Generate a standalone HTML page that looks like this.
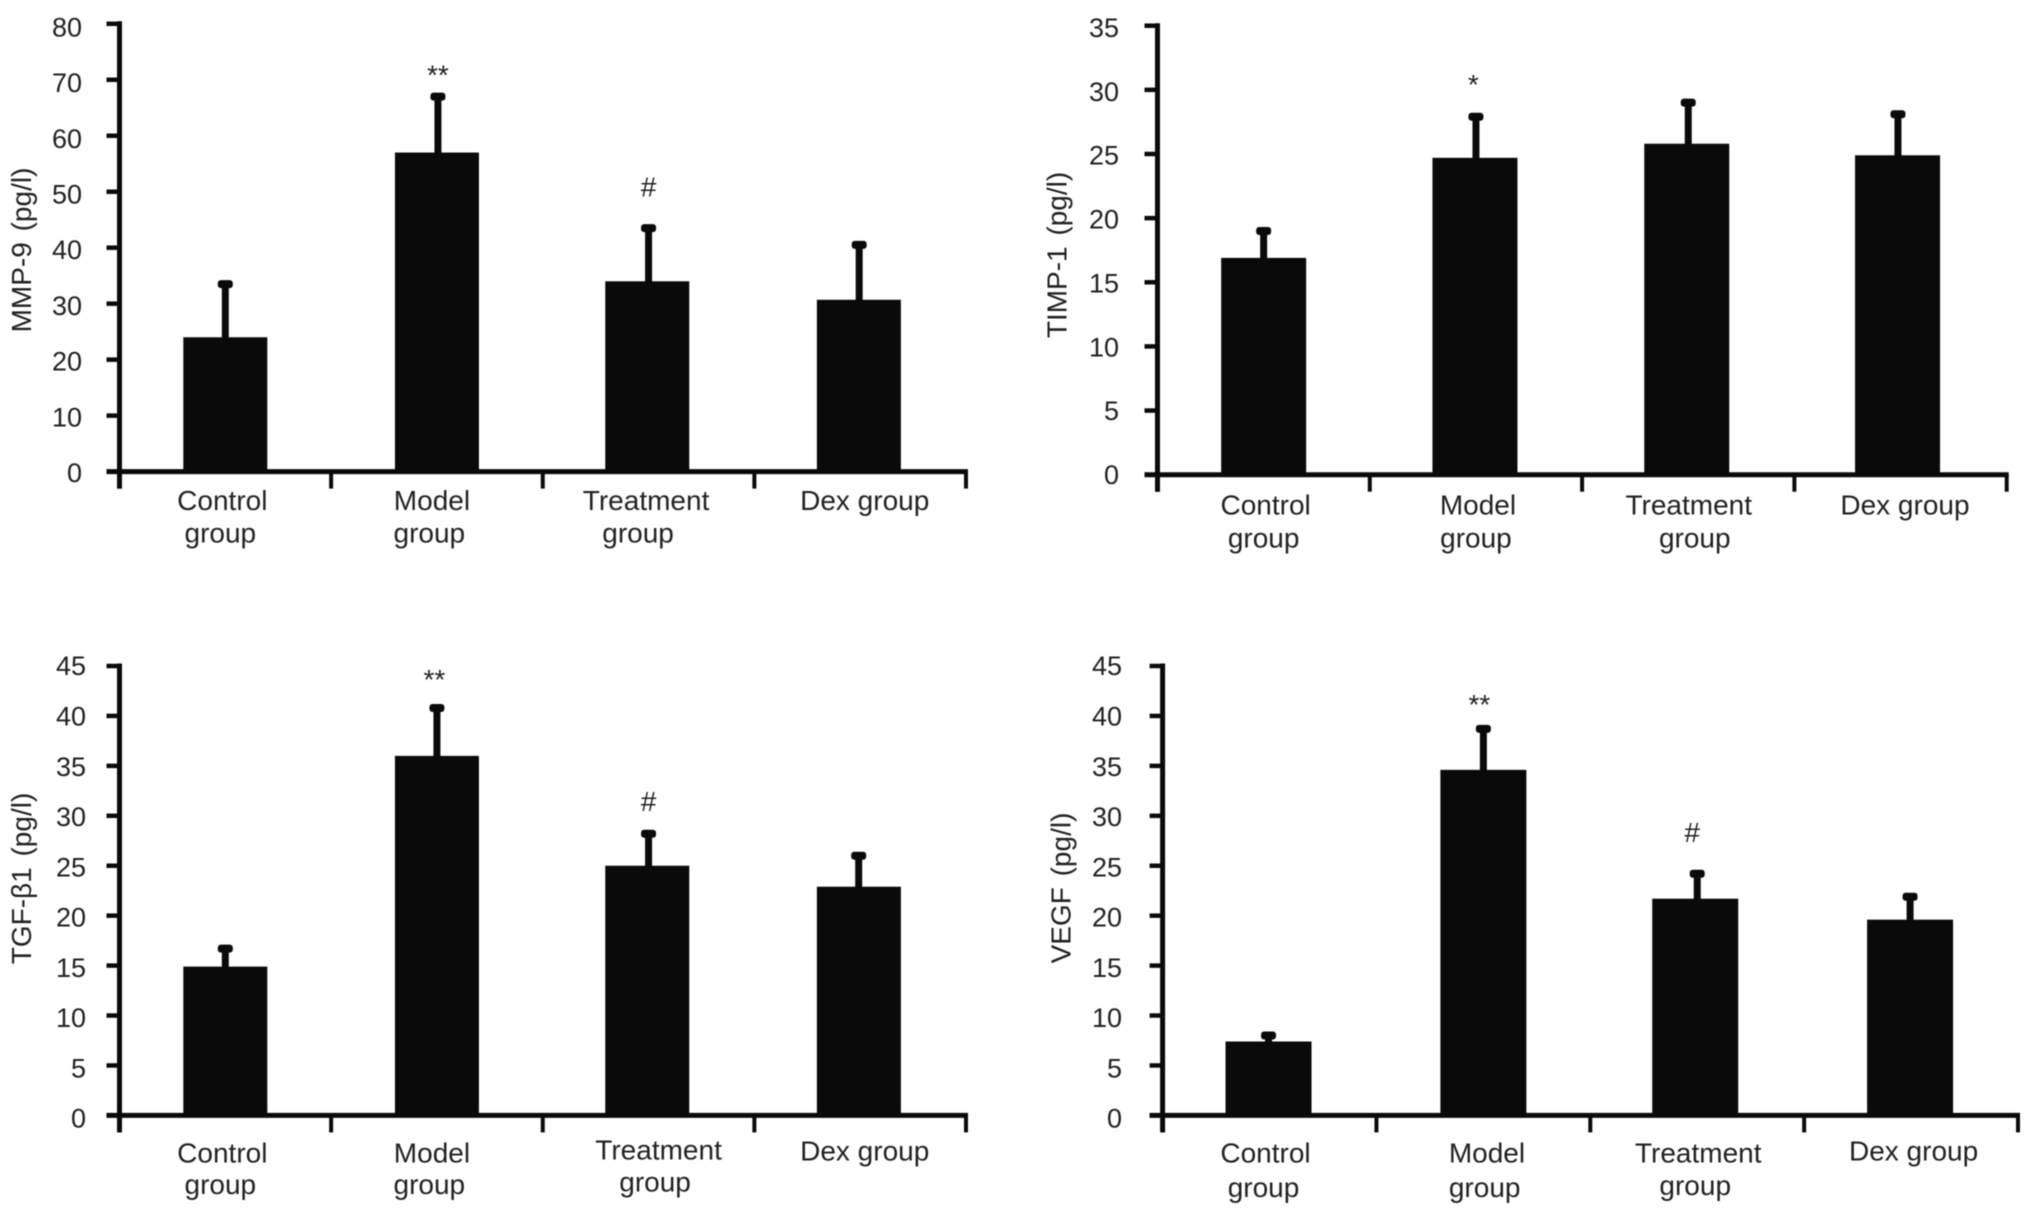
<!DOCTYPE html>
<html lang="en">
<head>
<meta charset="utf-8">
<title>Cytokine levels by treatment group</title>
<style>
  html, body { margin: 0; padding: 0; background: #fff; }
  body { width: 2031px; height: 1215px; overflow: hidden; }
  svg { display: block; filter: blur(0.5px); }
  text { font-family: "Liberation Sans", sans-serif; font-size: 28px; fill: #222; }
  text.tick-label { font-size: 27px; }
</style>
</head>
<body>
<svg id="figure" xmlns="http://www.w3.org/2000/svg" width="2031" height="1215" viewBox="0 0 2031 1215"></svg>
<script>
const categories = [["Control", "group"], ["Model", "group"], ["Treatment", "group"], ["Dex group"]];

const mmp9Means = [24, 57, 34, 30.7];
const mmp9Upper = [33.5, 67, 43.5, 40.5];
const mmp9Marks = ["", "**", "#", ""];
const mmp9Ticks = [0, 10, 20, 30, 40, 50, 60, 70, 80];

const timp1Means = [16.9, 24.7, 25.8, 24.9];
const timp1Upper = [19, 27.9, 29, 28.1];
const timp1Marks = ["", "*", "", ""];
const timp1Ticks = [0, 5, 10, 15, 20, 25, 30, 35];

const tgfMeans = [14.9, 36, 25, 22.9];
const tgfUpper = [16.7, 40.8, 28.2, 26];
const tgfMarks = ["", "**", "#", ""];
const tgfTicks = [0, 5, 10, 15, 20, 25, 30, 35, 40, 45];

const vegfMeans = [7.4, 34.6, 21.7, 19.6];
const vegfUpper = [8, 38.7, 24.2, 21.9];
const vegfMarks = ["", "**", "#", ""];
const vegfTicks = [0, 5, 10, 15, 20, 25, 30, 35, 40, 45];

const panels = [
  { name: "mmp9", title: "MMP-9 (pg/l)", means: mmp9Means, upper: mmp9Upper, marks: mmp9Marks, ticks: mmp9Ticks,
    left: 119.5, right: 966, top: 23.8, base: 471.6, barW: 84, labelRight: 82, dyTop: 3, dyBase: 1,
    titleX: 21.8, titleY: 250,
    barDx: [0, 0, -1.3, -1.3], errDx: [0, 1, 0, -1], markDx: [0, 0, 0, 0],
    markGap: [0, 24, 39, 0],
    line1: [510, 510, 510, 510], line2: [542.5, 542.5, 542.5],
    dx1: [-3, -5, -2.5, 4.5], dx2: [-5, -7.6, -10.5] },
  { name: "timp1", title: "TIMP-1 (pg/l)", means: timp1Means, upper: timp1Upper, marks: timp1Marks, ticks: timp1Ticks,
    left: 1157.5, right: 2006.7, top: 25.7, base: 474.7, barW: 85, labelRight: 1119, dyTop: 1.8, dyBase: -0.2,
    titleX: 1057.3, titleY: 255,
    barDx: [0, -1, -1.5, -3], errDx: [0, 0, 0, -2.6], markDx: [0, -2.6, 0, 0],
    markGap: [0, 35, 0, 0],
    line1: [514.5, 514.5, 514.5, 514.5], line2: [547.5, 547.5, 547.5],
    dx1: [2, 2, 0.5, 4.4], dx2: [0, 0, 6.5] },
  { name: "tgf-beta1", title: "TGF-β1 (pg/l)", means: tgfMeans, upper: tgfUpper, marks: tgfMarks, ticks: tgfTicks,
    left: 119.5, right: 966, top: 666, base: 1115.4, barW: 84, labelRight: 86, dyTop: -0.3, dyBase: 2.8,
    titleX: 21.8, titleY: 878.5,
    barDx: [0, 0, -1.3, -1.3], errDx: [0, 0, 0, -1.5], markDx: [0, -2.6, 0, 0],
    markGap: [0, 31, 30.5, 0],
    line1: [1162.5, 1162.5, 1159.5, 1160.5], line2: [1194, 1194, 1191.5],
    dx1: [-3, -5, 10, 4.5], dx2: [-5, -7.6, 6.5] },
  { name: "vegf", title: "VEGF (pg/l)", means: vegfMeans, upper: vegfUpper, marks: vegfMarks, ticks: vegfTicks,
    left: 1162.6, right: 2018, top: 666, base: 1115.4, barW: 86, labelRight: 1122, dyTop: -0.3, dyBase: 2.8,
    titleX: 1061.7, titleY: 888,
    barDx: [-1, 0, -2, -1], errDx: [-1, 0, 0, -1], markDx: [0, -4, -5, 0],
    markGap: [0, 27, 39, 0],
    line1: [1162.5, 1162.5, 1162.5, 1160.5], line2: [1197, 1197, 1195],
    dx1: [-4, 3.6, 1, 2.5], dx2: [-6, 1.3, -2] }
];

const svgNS = "http://www.w3.org/2000/svg";
const figure = document.getElementById("figure");

function make(parent, tag, attrs, content) {
  const node = document.createElementNS(svgNS, tag);
  for (const key in attrs) node.setAttribute(key, attrs[key]);
  if (content !== undefined) node.textContent = content;
  parent.appendChild(node);
  return node;
}

panels.forEach(function (p) {
  const yMax = p.ticks[p.ticks.length - 1];
  const yScale = function (v) { return p.base - (v / yMax) * (p.base - p.top); };
  const bandW = (p.right - p.left) / categories.length;
  const bandEdge = function (i) { return p.left + i * bandW; };
  const bandCenter = function (i) { return p.left + (i + 0.5) * bandW; };

  const group = make(figure, "g", {});
  
  

  let el;

  // bars and error bars
  p.means.forEach(function (mean, i) {
    const cx = bandCenter(i);
    const barX = cx + p.barDx[i];
    const errX = cx + p.errDx[i];
    el = make(group, "rect", { x: barX - p.barW / 2, y: yScale(mean), width: p.barW, height: p.base - yScale(mean), fill: "#0a0a0a" });
    
    

    el = make(group, "rect", { x: errX - 3.5, y: yScale(p.upper[i]), width: 7, height: yScale(mean) - yScale(p.upper[i]) + 1, fill: "#0a0a0a" });
    
    

    el = make(group, "rect", { x: errX - 7.5, y: yScale(p.upper[i]) - 4, width: 15, height: 8, rx: 3, fill: "#0a0a0a" });
    
    

    if (p.marks[i]) {
      const isStar = p.marks[i].charAt(0) === "*";
      el = make(group, "text", { x: errX + p.markDx[i], y: yScale(p.upper[i]) - p.markGap[i] + (isStar ? 12 : 7.5), "text-anchor": "middle" }, p.marks[i]);
      
      
    }
  });

  // axes
  el = make(group, "line", { x1: p.left, x2: p.left, y1: p.top - 2.5, y2: p.base + 17, stroke: "#0a0a0a", "stroke-width": 5 });
  
  

  el = make(group, "line", { x1: p.left - 13, x2: p.right + 2, y1: p.base, y2: p.base, stroke: "#0a0a0a", "stroke-width": 5 });
  
  

  // y ticks and labels
  p.ticks.forEach(function (v) {
    el = make(group, "line", { x1: p.left - 13, x2: p.left, y1: yScale(v), y2: yScale(v), stroke: "#0a0a0a", "stroke-width": 4.5 });
    
    

    const drift = p.dyBase + (p.dyTop - p.dyBase) * v / yMax;
    el = make(group, "text", { x: p.labelRight, y: yScale(v) + drift + 9.5, "text-anchor": "end", "class": "tick-label" }, String(v));
    
    
  });

  // x ticks
  for (let i = 0; i <= categories.length; i++) {
    el = make(group, "line", { x1: bandEdge(i), x2: bandEdge(i), y1: p.base, y2: p.base + 17, stroke: "#0a0a0a", "stroke-width": 4 });
    
    
  }

  // category labels
  categories.forEach(function (lines, i) {
    el = make(group, "text", { x: bandCenter(i) + p.dx1[i], y: p.line1[i], "text-anchor": "middle" }, lines[0]);
    
    
    if (lines[1]) {
      el = make(group, "text", { x: bandCenter(i) + p.dx2[i], y: p.line2[i], "text-anchor": "middle" }, lines[1]);
      
      
    }
  });

  // y axis title
  el = make(group, "text", { x: 0, y: 0, "text-anchor": "middle", "word-spacing": "3", transform: "translate(" + (p.titleX + 9) + " " + p.titleY + ") rotate(-90)" }, p.title);
  
  
});
</script>
</body>
</html>
